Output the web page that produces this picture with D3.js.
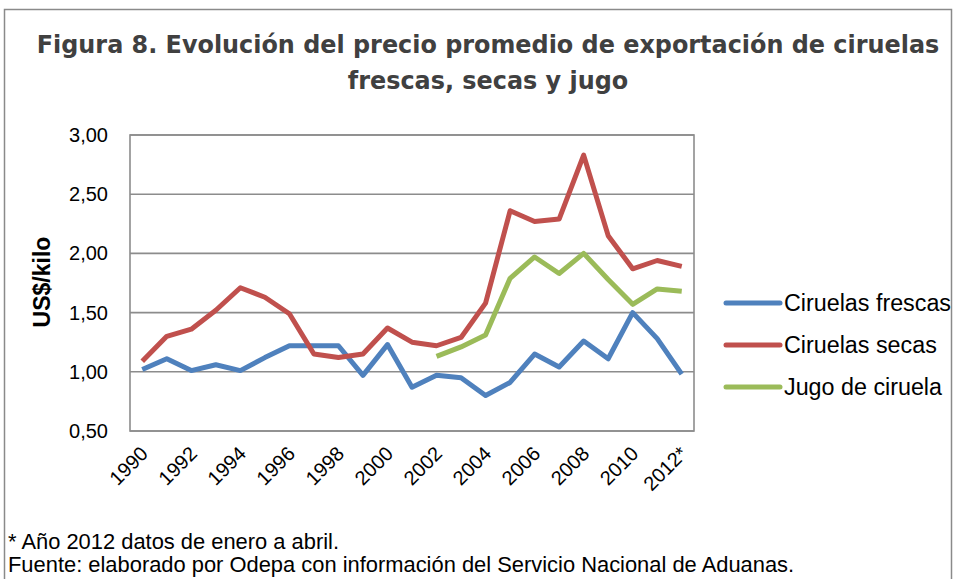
<!DOCTYPE html>
<html>
<head>
<meta charset="utf-8">
<script src="https://cdn.jsdelivr.net/npm/d3@7"></script>
<style>
  html, body { margin: 0; padding: 0; background: #ffffff; }
  svg { display: block; }
</style>
</head>
<body>
<svg id="chart" width="956" height="579"></svg>
<script>
const years = ["1990","1991","1992","1993","1994","1995","1996","1997","1998","1999","2000","2001",
               "2002","2003","2004","2005","2006","2007","2008","2009","2010","2011","2012"];
const frescas = [1.02,1.11,1.01,1.06,1.01,1.12,1.22,1.22,1.22,0.97,1.23,0.87,
                 0.97,0.95,0.80,0.91,1.15,1.04,1.26,1.11,1.50,1.28,0.98];
const secas = [1.09,1.30,1.36,1.52,1.71,1.63,1.49,1.15,1.12,1.15,1.37,1.25,
               1.22,1.29,1.58,2.36,2.27,2.29,2.83,2.15,1.87,1.94,1.89];
const jugo = [null,null,null,null,null,null,null,null,null,null,null,null,
              1.13,1.21,1.31,1.79,1.97,1.83,2.00,1.78,1.57,1.70,1.68];
const xTickLabels = ["1990","1992","1994","1996","1998","2000","2002","2004","2006","2008","2010","2012*"];
const yTicks = [0.5,1.0,1.5,2.0,2.5,3.0];
const seriesNames = ["Ciruelas frescas","Ciruelas secas","Jugo de ciruela"];
const seriesColors = ["#4F81BD","#C0504D","#9BBB59"];
const titleLines = ["Figura 8. Evolución del precio promedio de exportación de ciruelas","frescas, secas y jugo"];
const yTitle = "US$/kilo";
const notes = ["* Año 2012 datos de enero a abril.","Fuente: elaborado por Odepa con información del Servicio Nacional de Aduanas."];

const svg = d3.select("#chart");
const plot = {left: 130, right: 694, top: 135, bottom: 431};

// outer frame
svg.append("path")
  .attr("d", "M4.5,579 L4.5,9.5 L951.5,9.5 L951.5,579")
  .attr("fill","none").attr("stroke","#8a8a8a").attr("stroke-width",1.5);

// title (size fitted so first line spans the same width as the original)
const title = svg.append("g");
const titleTexts = titleLines.map((t,i) => title.append("text")
    .attr("x", 488).attr("y", 53 + i*36)
    .attr("text-anchor","middle")
    .attr("font-family","DejaVu Sans").attr("font-weight","bold")
    .attr("font-size", 21).attr("fill","#404040")
    .text(t));
const w0 = titleTexts[0].node().getComputedTextLength();
const tSize = Math.min(26, 21 * 903 / w0);
titleTexts.forEach(t => t.attr("font-size", tSize));

const x = d3.scaleBand().domain(years).range([plot.left, plot.right]).padding(0);
const y = d3.scaleLinear().domain([0.5, 3.0]).range([plot.bottom, plot.top]);
const cx = d => x(d) + x.bandwidth()/2;

const locale = d3.formatLocale({decimal: ",", thousands: ".", grouping: [3], currency: ["$",""]});
const fmt = locale.format(".2f");

// gridlines
svg.append("g").selectAll("line").data(yTicks).join("line")
  .attr("x1", plot.left).attr("x2", plot.right)
  .attr("y1", d => y(d)).attr("y2", d => y(d))
  .attr("stroke","#8c8c8c").attr("stroke-width",1.6);

// plot border
svg.append("rect")
  .attr("x", plot.left).attr("y", plot.top)
  .attr("width", plot.right-plot.left).attr("height", plot.bottom-plot.top)
  .attr("fill","none").attr("stroke","#8c8c8c").attr("stroke-width",1.6);

// y axis labels
const yAxis = d3.axisLeft(y).tickValues(yTicks).tickFormat(fmt).tickSize(0).tickPadding(22);
const gy = svg.append("g").attr("transform", `translate(${plot.left},0)`).call(yAxis);
gy.select(".domain").remove();
gy.selectAll("text").attr("font-family","Liberation Sans, Arial, sans-serif")
  .attr("font-size",20).attr("fill","#000");

// y title
svg.append("text")
  .attr("transform","translate(50,282) rotate(-90)")
  .attr("text-anchor","middle")
  .attr("font-family","Liberation Sans, Arial, sans-serif").attr("font-weight","bold")
  .attr("font-size",23).attr("fill","#000")
  .text(yTitle);

// x labels
const labelYears = years.filter((d,i) => i % 2 === 0);
svg.append("g").selectAll("text").data(labelYears).join("text")
  .attr("transform", (d) => `translate(${cx(d)+2},${plot.bottom+19}) rotate(-45)`)
  .attr("text-anchor","end")
  .attr("dy","0.35em")
  .attr("font-family","Liberation Sans, Arial, sans-serif")
  .attr("font-size",20).attr("fill","#000")
  .text((d,i) => xTickLabels[i]);

// lines
const allSeries = [frescas, secas, jugo];
const line = d3.line()
  .defined(d => d.v !== null)
  .x(d => cx(d.year)).y(d => y(d.v));
allSeries.forEach((vals, k) => {
  const data = years.map((yr,i) => ({year: yr, v: vals[i]}));
  svg.append("path").datum(data)
    .attr("d", line)
    .attr("fill","none").attr("stroke", seriesColors[k])
    .attr("stroke-width",5).attr("stroke-linejoin","round").attr("stroke-linecap","butt");
});

// legend
const legY = [303, 345, 387];
seriesNames.forEach((n,k) => {
  svg.append("line").attr("x1",726).attr("x2",780).attr("y1",legY[k]).attr("y2",legY[k])
    .attr("stroke",seriesColors[k]).attr("stroke-width",5).attr("stroke-linecap","round");
  svg.append("text").attr("x",784).attr("y",legY[k]).attr("dy","0.35em")
    .attr("font-family","Liberation Sans, Arial, sans-serif")
    .attr("font-size",23.3).attr("fill","#000").text(n);
});

// notes
notes.forEach((t,i) => {
  svg.append("text").attr("x",8).attr("y",549 + i*23)
    .attr("font-family","Liberation Sans, Arial, sans-serif")
    .attr("font-size",21.9).attr("fill","#000").text(t);
});
</script>
</body>
</html>
